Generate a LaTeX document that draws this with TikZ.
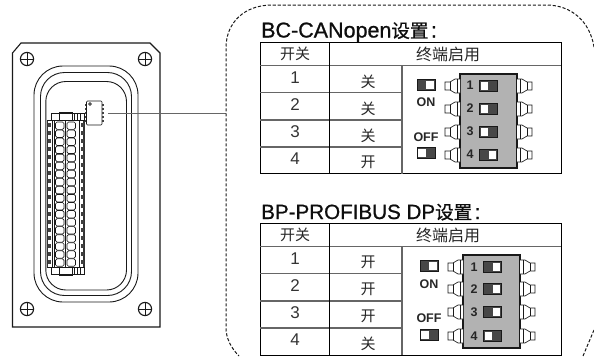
\documentclass[tikz,border=0pt]{standalone}
\usepackage{fontspec}
\setmainfont{Liberation Sans}
\newfontfamily\cjk{Noto Sans CJK SC}
\newfontfamily\titlelatin[FakeBold=0.9]{Liberation Sans}
\newfontfamily\titlecjk[FakeBold=0.9]{Noto Sans CJK SC}
\newcommand{\titlehan}{{\titlecjk\fontsize{18.5}{18.5}\selectfont 设置}\hspace{2.5pt}:}
\tikzset{
  x=1pt,y=-1pt,
  ink/.style={draw=black!90,line width=0.9pt},
  thin ink/.style={draw=black!90,line width=0.65pt},
  grid dark/.style={draw=black,line width=1pt},
  grid gray/.style={draw=black!60,line width=1.1pt},
  dash frame/.style={draw=black!90,line width=1pt,dash pattern=on 3.2pt off 1.8pt},
  leader/.style={draw=black!60,line width=0.9pt},
  title/.style={anchor=base west,inner sep=0pt,text=black!95},
  cell/.style={font=\cjk\fontsize{15}{15}\selectfont,inner sep=0pt,text=black!85},
  wide cell/.style={font=\cjk\fontsize{16}{16}\selectfont,inner sep=0pt,text=black!85},
  digit/.style={font=\fontsize{17}{16}\selectfont,inner sep=0pt,text=black!80},
  boldlab/.style={font=\bfseries\fontsize{12.5}{12}\selectfont,inner sep=0pt,text=black!85},
  body/.style={draw=black!90,fill=black!30,line width=1.2pt},
  swdark/.style={draw=black!90,fill=black!72,line width=0.9pt},
  swwhite/.style={draw=none,fill=white},
}
\newcommand{\swtch}[3]{%
  \filldraw[swdark] (#1-9,#2-5.5) rectangle (#1+9,#2+5.5);
  \fill[swwhite] (#1+#3*4-3.9,#2-4) rectangle (#1+#3*4+3.9,#2+4);}
\newcommand{\dippin}[3]{%
  \draw[thin ink,fill=white] (#1,#2-7) -- (#1+#3*5,#2-7) -- (#1+#3*10,#2-4) -- (#1+#3*15,#2-4) -- (#1+#3*15,#2+4) -- (#1+#3*10,#2+4) -- (#1+#3*5,#2+7) -- (#1,#2+7);
  \draw[thin ink] (#1+#3*3,#2-7) -- (#1+#3*3,#2+7) (#1+#3*10,#2-4) -- (#1+#3*10,#2+4);}
\newcommand{\screwmark}[2]{%
  \draw[ink,line width=1.1pt] (#1,#2) circle (6.6);
  \draw[ink] (#1-6.6,#2) -- (#1+6.6,#2) (#1,#2-6.6) -- (#1,#2+6.6);}
\begin{document}
\begin{tikzpicture}
\useasboundingbox (0,0) rectangle (594,356);
\clip (0,0) rectangle (594,356);
% ---- device
\draw[ink,line width=1.1pt] (12.5,53) -- (21,43) -- (150,43) -- (160,53) -- (160,327) -- (12.5,327) -- cycle;
\screwmark{27}{59}\screwmark{145}{59}\screwmark{27}{309}\screwmark{145}{309}
\draw[ink,rounded corners=29] (34,66) rectangle (138,302);
\draw[ink,rounded corners=24] (40.5,72.5) rectangle (131.5,295.5);
\draw[ink,rounded corners=20] (45.8,81.5) rectangle (126.5,290);
% terminal block
\fill[white] (47,113) rectangle (85,275);
\draw[line width=1.5pt,draw=black!80] (47.3,120) -- (47.3,267) (84,120) -- (84,267);
\draw[thin ink] (47.3,120) -- (84,120) (47.3,267) -- (84,267);
\draw[thin ink] (51,113) rectangle (84,120);
\draw[thin ink] (59,112) rectangle (72,120);
\draw[thin ink] (74,113) -- (74,120) (77,113) -- (77,120) (80,113) -- (80,120);
\draw[thin ink] (51,267) rectangle (84,274);
\draw[thin ink] (59.5,267) rectangle (72.5,275);
\draw[thin ink] (74,267) -- (74,274) (77,267) -- (77,274) (80,267) -- (80,274);
\foreach \i in {0,...,17}{
  \pgfmathsetmacro{\yy}{122+8.05*\i}
  \draw[thin ink,rounded corners=1.5] (55.5,\yy) rectangle (64,\yy+7.4);
  \draw[thin ink,rounded corners=1.5] (67,\yy) rectangle (75.5,\yy+7.4);
  \fill[black!75] (48,\yy+1) rectangle (51,\yy+5);
  \fill[black!75] (80.5,\yy+1) rectangle (83.5,\yy+5);
}
\draw[thin ink] (52,120) -- (52,267) (54,120) -- (54,267) (65.5,120) -- (65.5,267) (79.5,120) -- (79.5,267);
% chip
\foreach \yy in {104,108,112,116,120}{
  \fill[black!75] (85,\yy) rectangle (87,\yy+2);
  \fill[black!75] (101.5,\yy) rectangle (103.5,\yy+2);
}
\draw[thin ink,fill=white,rounded corners=1] (86.5,101) rectangle (102,125);
\draw[thin ink] (90,104) circle (1.4);
\node[inner sep=0pt,minimum size=0pt] (chip) at (108,113.5) {};
\coordinate (framehit) at (226,113.5);
\draw[leader] (chip) -- (framehit);
% ---- dashed frame
\draw[dash frame] (594,47) .. controls (590,22) and (572,5) .. (546,5) -- (272,5) .. controls (245,5) and (226,22) .. (226,48) -- (226,328) .. controls (226,338) and (231,348) .. (239,356);
\draw[dash frame] (594,330) -- (583,356);
% ---- titles
\node[title,font=\titlelatin\fontsize{21.5}{21}\selectfont] (t1) at (261,37.5) {BC-CANopen\titlehan};
\node[title,font=\titlelatin\fontsize{20.6}{21}\selectfont] (t2) at (261,219) {BP-PROFIBUS DP\titlehan};
% ---- table 1
\draw[grid dark] (260,42.5) rectangle (561,173.5);
\draw[grid gray] (260,65.5) -- (561,65.5) (260,92.5) -- (402,92.5) (260,120) -- (402,120) (260,147) -- (402,147);
\draw[grid gray] (402,65.5) -- (402,173.5);
\draw[grid dark] (329.3,42.5) -- (329.3,173.5);
\node[cell] (h1a) at (295,54) {开关};
\node[wide cell] (h1b) at (448,54) {终端启用};
\foreach \d/\yy/\lab in {1/78/关,2/105/关,3/132/关,4/159/开}{
  \node[digit] (r1d\d) at (295,\yy) {\d};
  \node[cell] (r1l\d) at (368,\yy+3.5) {\lab};
}
\filldraw[body] (460,74) rectangle (517,168);
\foreach \n/\yy/\s in {1/86/-1,2/109/-1,3/132/-1,4/155/1}{
  \swtch{488.5}{\yy}{\s}
  \node[boldlab] (d1n\n) at (470,\yy-0.5) {\n};
  \dippin{460}{\yy}{-1}
  \dippin{517}{\yy}{1}
}
\swtch{426}{85}{1}
\swtch{426}{153}{-1}
\node[boldlab] (on1) at (426,102) {ON};
\node[boldlab] (off1) at (426,137) {OFF};
% ---- table 2
\draw[grid dark] (260,223) rectangle (561,355);
\draw[grid gray] (260,246.5) -- (561,246.5) (260,273.5) -- (402,273.5) (260,301) -- (402,301) (260,328) -- (402,328);
\draw[grid gray] (402,246.5) -- (402,355);
\draw[grid dark] (329.3,223) -- (329.3,355);
\node[cell] (h2a) at (295,235) {开关};
\node[wide cell] (h2b) at (448,235) {终端启用};
\foreach \d/\yy/\lab in {1/259/开,2/286/开,3/313/开,4/340/关}{
  \node[digit] (r2d\d) at (295,\yy) {\d};
  \node[cell] (r2l\d) at (368,\yy+3.5) {\lab};
}
\filldraw[body] (463,255) rectangle (520,348);
\foreach \n/\yy/\s in {1/267/1,2/289/1,3/312/1,4/336/-1}{
  \swtch{492.5}{\yy}{\s}
  \node[boldlab] (d2n\n) at (474,\yy) {\n};
  \dippin{463}{\yy}{-1}
  \dippin{520}{\yy}{1}
}
\swtch{429}{266}{1}
\swtch{429}{335}{-1}
\node[boldlab] (on2) at (429,284) {ON};
\node[boldlab] (off2) at (429,318) {OFF};
\end{tikzpicture}
\end{document}
